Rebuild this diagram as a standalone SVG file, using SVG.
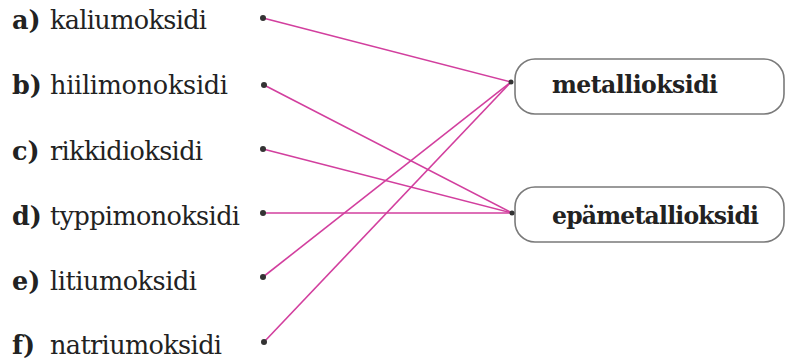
<svg xmlns="http://www.w3.org/2000/svg" width="786" height="360" viewBox="0 0 786 360">
<style>
  text { font-family: 'DejaVu Serif', serif; font-size: 25.5px; fill: #222; }
  .b { font-weight: bold; }
  .bx { font-size: 23.5px; }
  .box { fill: #fff; stroke: #7a7a7a; stroke-width: 1.6; }
  .ln { stroke: #d23f9e; stroke-width: 1.6; fill: none; }
  .dot { fill: #333; }
</style>
<rect width="786" height="360" fill="#fff"/>
<g id="connectors">
  <line class="ln" x1="263" y1="18" x2="511" y2="82"/>
  <line class="ln" x1="264" y1="85" x2="512" y2="213"/>
  <line class="ln" x1="263" y1="149" x2="512" y2="213"/>
  <line class="ln" x1="263" y1="213" x2="512" y2="213"/>
  <line class="ln" x1="263" y1="277" x2="511" y2="82"/>
  <line class="ln" x1="264" y1="342" x2="511" y2="82"/>
</g>
<g id="a"><text x="12" y="29"><tspan class="b">a)</tspan><tspan x="50" textLength="157">kaliumoksidi</tspan></text><circle class="dot" cx="263" cy="18" r="3"/></g>
<g id="b"><text x="12" y="94"><tspan class="b">b)</tspan><tspan x="50" textLength="178">hiilimonoksidi</tspan></text><circle class="dot" cx="264" cy="85" r="3"/></g>
<g id="c"><text x="12" y="160"><tspan class="b">c)</tspan><tspan x="50" textLength="153">rikkidioksidi</tspan></text><circle class="dot" cx="263" cy="149" r="3"/></g>
<g id="d"><text x="12" y="225"><tspan class="b">d)</tspan><tspan x="50" textLength="190">typpimonoksidi</tspan></text><circle class="dot" cx="263" cy="213" r="3"/></g>
<g id="e"><text x="12" y="290"><tspan class="b">e)</tspan><tspan x="50" textLength="147">litiumoksidi</tspan></text><circle class="dot" cx="263" cy="277" r="3"/></g>
<g id="f"><text x="12" y="354"><tspan class="b">f)</tspan><tspan x="50" textLength="172">natriumoksidi</tspan></text><circle class="dot" cx="264" cy="342" r="3"/></g>
<g id="metallioksidi">
  <rect class="box" x="515" y="59" width="269" height="55" rx="20"/>
  <circle class="dot" cx="511" cy="82" r="2.5"/>
  <text class="b bx" x="552" y="93" textLength="166">metallioksidi</text>
</g>
<g id="epametallioksidi">
  <rect class="box" x="515" y="187" width="269" height="55" rx="20"/>
  <circle class="dot" cx="512" cy="213" r="2.5"/>
  <text class="b bx" x="552" y="224" textLength="207">epämetallioksidi</text>
</g>
</svg>
